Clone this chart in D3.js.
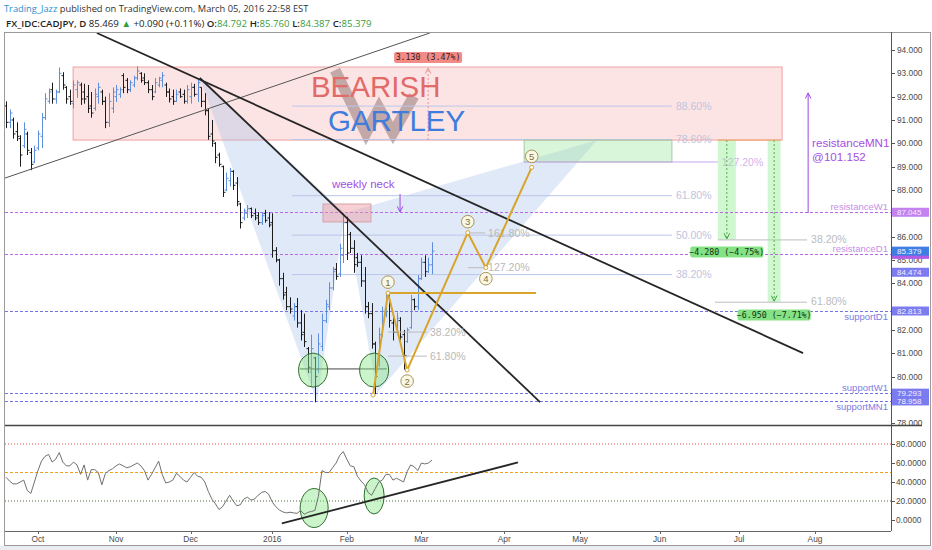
<!DOCTYPE html>
<html><head><meta charset="utf-8">
<script src="https://cdn.jsdelivr.net/npm/d3@7"></script>
<style>
html,body{margin:0;padding:0;background:#fff;overflow:hidden;}
svg{display:block;}
</style></head><body>
<svg id="c" width="932" height="550"></svg>
<script>
// ---------------- DATA ----------------
// daily bars, first bar = 2015-09-18 (index -9), index 0 = 2015-10-01
const firstBarIndex = -9;
const ohlc = [
[91.6,91.8,90.65,90.9],[90.9,91.45,90.65,91.3],[91.0,91.1,90.2,90.4],[90.5,90.9,90.1,90.3],[90.2,90.35,89.0,89.5],
[89.9,90.9,89.8,90.6],[90.4,90.5,89.5,89.7],[89.6,89.8,88.85,89.1],[89.2,89.9,89.15,89.7],
[89.8,90.55,89.7,90.4],[90.3,91.3,89.8,91.1],[91.1,92.15,91.0,91.9],[91.8,92.35,91.7,92.2],[92.3,92.6,91.7,91.9],
[91.9,92.3,91.7,92.2],[92.2,93.25,92.15,93.0],[92.9,93.05,92.3,92.5],[92.4,92.45,91.7,91.9],[92.0,92.3,91.65,91.8],
[91.7,92.7,91.5,92.5],[92.3,92.7,91.95,92.6],[92.5,92.6,91.65,91.9],[92.2,92.55,91.7,91.9],[92.0,92.5,91.3,91.5],
[91.6,92.2,91.1,91.3],[91.5,92.35,91.4,92.1],[92.0,92.6,91.7,92.4],[92.2,92.3,91.65,91.8],[91.8,92.0,90.65,90.9],
[90.9,92.15,90.7,91.8],[91.5,92.4,91.3,92.2],[92.0,92.5,91.77,92.3],[92.1,92.4,91.95,92.3],[92.9,93.0,92.15,92.4],
[92.7,92.8,92.15,92.3],[92.3,92.7,92.2,92.6],[92.5,92.9,92.4,92.8],[92.8,93.3,92.7,93.1],[93.0,93.05,92.6,92.7],
[92.8,93.0,92.5,92.6],[92.6,92.7,92.15,92.3],[92.3,92.5,91.85,92.0],[92.2,92.8,92.15,92.6],[92.5,92.85,92.4,92.8],
[92.7,93.05,92.4,92.9],[92.5,92.6,91.99,92.2],[92.2,92.35,91.75,91.9],[92.0,92.3,91.65,91.8],[91.8,92.3,91.77,92.1],
[92.2,92.35,91.95,92.0],[92.1,92.3,91.7,91.8],[91.8,92.5,91.7,92.3],[92.0,92.6,91.7,92.4],[92.4,92.55,92.0,92.1],
[92.1,92.8,91.77,92.6],[92.4,92.4,91.55,91.8],[91.8,92.15,91.2,91.4],[91.4,91.5,90.15,90.3],[90.4,91.0,89.85,90.1],
[90.0,90.05,89.15,89.4],[89.5,89.6,89.0,89.1],[89.0,89.05,87.7,87.9],[88.0,88.75,87.95,88.5],[88.4,88.95,88.15,88.8],
[88.8,88.85,88.0,88.2],[88.3,88.55,87.3,87.5],[87.4,87.45,86.35,86.6],[86.8,87.2,86.7,87.1],[87.0,87.35,86.8,87.2],
[87.2,87.25,86.8,86.9],[87.0,87.2,86.7,86.8],[86.9,87.05,86.5,86.6],[86.6,87.05,86.5,86.9],[87.0,87.15,86.6,86.7],
[86.8,87.05,86.4,86.5],[86.6,87.0,85.1,85.4],[85.4,85.55,84.9,85.0],[85.0,85.05,83.9,84.2],[84.2,84.45,83.3,83.5],
[83.6,83.85,82.85,83.0],[83.0,83.4,82.7,82.9],[82.6,83.15,82.4,83.0],[83.0,83.37,82.1,82.3],[82.3,82.85,81.55,81.8],
[81.9,82.7,81.27,81.5],[81.2,81.27,80.15,80.4],[80.2,81.8,79.55,81.2],[80.8,80.85,78.9,80.0],[80.3,81.85,80.15,81.4],
[81.3,82.7,81.1,82.4],[82.4,83.3,82.3,83.1],[83.0,84.05,82.85,83.8],[83.8,84.7,83.7,84.5],[84.6,84.87,84.15,84.3],
[84.4,85.7,84.27,85.5],[85.2,87.0,84.87,86.6],[86.6,86.85,85.0,85.3],[86.1,86.2,85.3,85.5],[85.5,85.85,84.45,84.8],
[85.1,85.3,84.7,84.9],[84.9,85.2,83.85,84.1],[84.1,84.7,82.7,83.0],[83.0,83.2,82.5,82.7],[82.7,83.15,81.2,81.4],
[81.4,81.5,79.25,80.0],[80.5,82.1,80.4,81.8],[81.8,83.0,81.7,82.8],[82.7,83.6,82.55,83.4],[83.4,83.6,82.1,82.4],
[82.3,82.7,81.55,81.9],[81.9,82.75,81.85,82.5],[82.4,82.55,81.55,81.7],[81.8,82.0,80.3,80.9],[81.5,82.1,81.45,82.0],
[82.1,83.5,82.05,83.3],[83.3,83.35,82.85,83.0],[83.0,84.35,82.85,84.2],[84.2,85.1,84.15,84.9],[84.9,85.2,84.27,84.5],
[84.5,85.1,84.45,84.79],[84.792,85.76,84.387,85.379]
];
const rsi = [45,41,38,38,40,42,31,28,40,
52,62,67,69,61,64,71,61,57,57,
61,58,48,58,42,53,53,50,37,49,
52,54,57,59,57,55,56,58,60,57,
52,42,48,55,62,48,39,40,42,49,
46,42,40,45,50,46,45,40,30,22,
17,11,14,20,26,20,15,16,22,24,
21,22,26,29,30,27,19,14,10.5,8.5,
7.5,8.2,7.5,7,10,6,8,9,10,25,
52,50,50,55,60,68,72,64,57,56,
46,41,37,29,26,33,40,42,48,48,
42,44,42,40,51,58,56,52,60,59,
60,63];

const priceTicks = d3.range(78, 95, 1);
const rsiTicks = [0, 20, 40, 60, 80];
const monthLabels = ["Oct","Nov","Dec","2016","Feb","Mar","Apr","May","Jun","Jul","Aug"];
const monthStarts = ["2015-10-01","2015-11-02","2015-12-01","2016-01-01","2016-02-01","2016-03-01","2016-04-01","2016-05-02","2016-06-01","2016-07-01","2016-08-01"];

// levels
const levelNames = ["resistanceW1","resistanceD1","supportD1","supportW1","supportMN1"];
const levelValues = [87.045, 85.24, 82.813, 79.293, 78.958];
const levelAbove = [true, true, false, true, false];
const axisBoxValues = [87.045, 85.24, 85.379, 84.474, 82.813, 79.293, 78.958];
const axisBoxKinds  = ["res","resHidden","last","sup","sup","sup","sup"];

// fib retracement (XA) : [low, high] and levels
const fibRange = [78.9, 93.23];
const fibLevels = [0.382, 0.5, 0.618, 0.786, 0.886];
const fibSpan = [71.6, 177.4];

// PRZ zone
const przSpan = [9.9, 207.9];
const przPrices = [90.14, 93.27];
const przMeasureIndex = 109.9;

// harmonic X A B C D
const xabcd = [[45.6,92.8],[78.6,78.91],[86.5,87.01],[95.5,79.3],[156.7,90.14]];

// trend lines
const thickLines = [[[16.6,94.73],[213.7,81.01]], [[45.6,92.8],[140.9,78.91]]];
const thinLine = [[-9.3,88.51],[110.4,94.73]];
const neckLine = [[73.8,80.33],[98.3,80.33]];
const priceCircles = [[77.5,80.28],[94.7,80.28]];

// wave count
const wavePts = [[94.4,79.21],[98.6,83.58],[104.0,80.28],[120.9,86.17],[125.9,84.67],[138.6,88.97]];
const waveNames = ["1","2","3","4","5"];
const waveBaseEnd = 139.8;
const waveRetr = [0.382, 0.618];
const waveRetrSpan = [98.6, 109.6];
const waveExt = [["161.80%",86.16],["127.20%",84.67]];
const waveExtSpan = [120.9, 125.7];

// target zone
const targetSpan = [136.5, 177.4];
const targetPrices = [89.2, 90.14];
const targetLineEnd = 190.1;

// measurement tools
const measureBase = 90.14;
const measureTargets = [85.86, 83.19];
const measureSpans = [[190.1,195.1],[203.9,207.5]];
const measureLabelPrice = [85.34, 82.64];
const measureFibNames = ["38.20%","61.80%"];
const measureFibSpan = [[190.1,214.8],[189.3,214.8]];

// annotations
const gartleyIcon = [[83.7,93.14],[92.4,90.44],[96.1,91.51],[100.0,90.44],[105.9,92.03]];
const neckText = [82.8, 88.09];
const neckArrow = [102.0, 87.83, 87.06];
const neckBox = [[80.3,87.40],[93.8,86.63]];
const mnArrow = [215.1, 87.01, 92.16];
const mnText = [216.2, 89.84, 89.24];

// RSI annotations
const rsiTrend = [[68.7,-3.6],[134.8,60.6]];
const rsiCircles = [[77.8,12.6],[94.7,25.3]];

// ---------------- SCALES ----------------
const svg = d3.select("#c");
const L = 5, R = 891, mainTop = 32, mainBot = 425, rsiTop = 427, rsiBot = 531;
const x = d3.scaleLinear().domain([-9, 111, 217]).range([6, 432, 815]);
const y = d3.scaleLinear().domain([78, 94]).range([423.3, 50]);
const yr = d3.scaleLinear().domain([0, 80]).range([520, 444]);
const FONT = "'Liberation Sans', Arial, sans-serif";
const MONO = "'DejaVu Sans Mono', 'Liberation Mono', monospace";

function tradingIndex(ds) {
  const s = new Date(Date.UTC(2015, 9, 1));
  const d = new Date(ds + "T00:00:00Z");
  return d3.utcDay.range(s, d).filter(t => t.getUTCDay() % 6 !== 0).length;
}

svg.append("rect").attr("width", 932).attr("height", 550).attr("fill", "#fff");
svg.append("rect").attr("x", 0).attr("y", 546).attr("width", 932).attr("height", 4).attr("fill", "#e9edf1");

const defs = svg.append("defs");
defs.append("clipPath").attr("id", "cm").append("rect").attr("x", L).attr("y", mainTop).attr("width", R - L).attr("height", mainBot - mainTop);
defs.append("clipPath").attr("id", "cr").append("rect").attr("x", L).attr("y", rsiTop).attr("width", R - L).attr("height", rsiBot - rsiTop);
function arrowMarker(id, color) {
  defs.append("marker").attr("id", id).attr("viewBox", "0 0 10 10").attr("refX", 9).attr("refY", 5)
    .attr("markerWidth", 7).attr("markerHeight", 7).attr("orient", "auto-start-reverse")
    .append("path").attr("d", "M1,1 L9,5 L1,9").attr("fill", "none").attr("stroke", color).attr("stroke-width", 1.4);
}
arrowMarker("arP", "#9b47e0");
arrowMarker("arG", "#3aa03a");
arrowMarker("arR", "#e59090");

const main = svg.append("g").attr("clip-path", "url(#cm)");
const line = d3.line().x(d => x(d[0])).y(d => y(d[1]));

// PRZ zone
main.append("rect").attr("x", x(przSpan[0])).attr("y", y(przPrices[1]))
  .attr("width", x(przSpan[1]) - x(przSpan[0])).attr("height", y(przPrices[0]) - y(przPrices[1]))
  .attr("fill", "rgba(250,170,170,0.32)").attr("stroke", "#f0a2a2").attr("stroke-width", 1);

// harmonic triangles
const tri1 = [xabcd[0], xabcd[1], xabcd[2]];
const tri2 = [xabcd[2], xabcd[3], xabcd[4]];
[tri1, tri2].forEach(t => main.append("path").attr("d", line(t) + "Z").attr("fill", "rgba(160,188,232,0.33)").attr("stroke", "none"));

// gartley icon
main.append("path").attr("d", line(gartleyIcon)).attr("fill", "none").attr("stroke", "rgba(125,95,95,0.45)")
  .attr("stroke-width", 11).attr("stroke-linejoin", "miter");

// fib lines
fibLevels.forEach(l => {
  const p = fibRange[0] + l * (fibRange[1] - fibRange[0]);
  main.append("line").attr("x1", x(fibSpan[0])).attr("x2", x(fibSpan[1])).attr("y1", y(p)).attr("y2", y(p))
    .attr("stroke", "#b9c6ec").attr("stroke-width", 1);
  main.append("text").attr("x", x(fibSpan[1]) + 4).attr("y", y(p)).attr("dy", "0.35em")
    .attr("font-family", FONT).attr("font-size", 10.5).attr("fill", "#bcc4de").text(d3.format(".2f")(l * 100) + "%");
});

// target zone
main.append("rect").attr("x", x(targetSpan[0])).attr("y", y(targetPrices[1]))
  .attr("width", x(targetSpan[1]) - x(targetSpan[0])).attr("height", y(targetPrices[0]) - y(targetPrices[1]))
  .attr("fill", "rgba(150,228,150,0.35)").attr("stroke", "#a8c8a8").attr("stroke-width", 1);
main.append("line").attr("x1", x(targetSpan[0])).attr("x2", x(targetLineEnd)).attr("y1", y(targetPrices[0])).attr("y2", y(targetPrices[0]))
  .attr("stroke", "#c9a6ee").attr("stroke-width", 1);
main.append("text").attr("x", x(targetLineEnd) + 4).attr("y", y(targetPrices[0])).attr("dy", "0.35em")
  .attr("font-family", FONT).attr("font-size", 10.5).attr("fill", "#d3b3ec").text("127.20%");

// measurement bars
measureTargets.forEach((t, k) => {
  const s = measureSpans[k];
  main.append("rect").attr("x", x(s[0])).attr("y", y(measureBase)).attr("width", x(s[1]) - x(s[0]))
    .attr("height", y(t) - y(measureBase)).attr("fill", "rgba(140,235,140,0.4)");
  const cx = (x(s[0]) + x(s[1])) / 2;
  main.append("line").attr("x1", cx).attr("x2", cx).attr("y1", y(measureBase)).attr("y2", y(t) - 1)
    .attr("stroke", "#4cae4c").attr("stroke-width", 1).attr("stroke-dasharray", "2,2").attr("marker-end", "url(#arG)");
  main.append("line").attr("x1", x(measureFibSpan[k][0])).attr("x2", x(measureFibSpan[k][1])).attr("y1", y(t)).attr("y2", y(t))
    .attr("stroke", "#bdbdbd").attr("stroke-width", 1);
  main.append("text").attr("x", x(measureFibSpan[k][1]) + 4).attr("y", y(t) - 1).attr("dy", "0.35em")
    .attr("font-family", FONT).attr("font-size", 10.5).attr("fill", "#bbbbbb").text(measureFibNames[k]);
});
main.append("line").attr("x1", x(measureSpans[0][0])).attr("x2", x(measureSpans[1][1])).attr("y1", y(measureBase)).attr("y2", y(measureBase))
  .attr("stroke", "#f0a060").attr("stroke-width", 1);

// level lines
levelValues.forEach((v, k) => {
  const res = levelNames[k].startsWith("res");
  main.append("line").attr("x1", L).attr("x2", R).attr("y1", Math.round(y(v)) + 0.5).attr("y2", Math.round(y(v)) + 0.5)
    .attr("stroke", res ? "#b76ae8" : "#7474e6").attr("stroke-width", 1).attr("stroke-dasharray", "3,2");
  main.append("text").attr("x", R - 3).attr("y", y(v) + (levelAbove[k] ? -2 : 9)).attr("text-anchor", "end")
    .attr("font-family", FONT).attr("font-size", 9.5).attr("fill", res ? "#c590e6" : "#7c7ce4").text(levelNames[k]);
});

// neck box
main.append("rect").attr("x", x(neckBox[0][0])).attr("y", y(neckBox[0][1])).attr("width", x(neckBox[1][0]) - x(neckBox[0][0]))
  .attr("height", y(neckBox[1][1]) - y(neckBox[0][1])).attr("fill", "rgba(238,150,160,0.45)").attr("stroke", "#d9a0a8");

// bars
const bars = ohlc.map((b, k) => ({ i: firstBarIndex + k, o: b[0], h: b[1], l: b[2], c: b[3] }));
main.append("g").selectAll("path").data(bars).join("path")
  .attr("d", d => {
    const cx = Math.round(x(d.i)) + 0.5;
    return `M${cx},${y(d.h)}V${y(d.l)}M${cx - 2},${y(d.o)}H${cx}M${cx},${y(d.c)}H${cx + 2}`;
  })
  .attr("fill", "none").attr("stroke", d => d.c >= d.o ? "#5d8fdc" : "#1b1b1b").attr("stroke-width", 1);

// trend lines
main.append("path").attr("d", line(thinLine)).attr("stroke", "#555").attr("stroke-width", 1).attr("fill", "none");
thickLines.forEach(t => main.append("path").attr("d", line(t)).attr("stroke", "#262626").attr("stroke-width", 1.8).attr("fill", "none"));

// neck line + circles
main.append("path").attr("d", line(neckLine)).attr("stroke", "#444").attr("stroke-width", 1).attr("fill", "none");
priceCircles.forEach(c => main.append("ellipse").attr("cx", x(c[0])).attr("cy", y(c[1])).attr("rx", 14.5).attr("ry", 17)
  .attr("fill", "rgba(140,230,140,0.45)").attr("stroke", "#2f6f2f").attr("stroke-width", 1));

// wave lines
const gold = "#d8a42a";
main.append("line").attr("x1", x(wavePts[1][0])).attr("x2", x(waveBaseEnd)).attr("y1", y(wavePts[1][1])).attr("y2", y(wavePts[1][1]))
  .attr("stroke", gold).attr("stroke-width", 2);
waveRetr.forEach(r => {
  const p = wavePts[1][1] - r * (wavePts[1][1] - wavePts[0][1]);
  main.append("line").attr("x1", x(waveRetrSpan[0])).attr("x2", x(waveRetrSpan[1])).attr("y1", y(p)).attr("y2", y(p)).attr("stroke", "#bdbdbd");
  main.append("text").attr("x", x(waveRetrSpan[1]) + 3).attr("y", y(p)).attr("dy", "0.35em").attr("font-family", FONT)
    .attr("font-size", 10.5).attr("fill", "#b9b9b9").text(d3.format(".2f")(r * 100) + "%");
});
waveExt.forEach(e => {
  main.append("line").attr("x1", x(waveExtSpan[0])).attr("x2", x(waveExtSpan[1])).attr("y1", y(e[1])).attr("y2", y(e[1])).attr("stroke", "#bdbdbd");
  main.append("text").attr("x", x(waveExtSpan[1]) + 3).attr("y", y(e[1])).attr("dy", "0.35em").attr("font-family", FONT)
    .attr("font-size", 10.5).attr("fill", "#b9b9b9").text(e[0]);
});
main.append("path").attr("d", line(wavePts)).attr("fill", "none").attr("stroke", gold).attr("stroke-width", 2).attr("stroke-linejoin", "round");
main.selectAll(".wp").data(wavePts).join("circle").attr("cx", d => x(d[0])).attr("cy", d => y(d[1])).attr("r", 2)
  .attr("fill", "#fff").attr("stroke", gold).attr("stroke-width", 1);
waveNames.forEach((n, k) => {
  const p = wavePts[k + 1];
  const up = k % 2 === 0;
  const cx = x(p[0]), cy = y(p[1]) + (up ? -11 : 11);
  main.append("circle").attr("cx", cx).attr("cy", cy).attr("r", 6.3).attr("fill", "#fbf8e6").attr("stroke", "#a2955a").attr("stroke-width", 1);
  main.append("text").attr("x", cx).attr("y", cy).attr("dy", "0.36em").attr("text-anchor", "middle").attr("font-family", FONT)
    .attr("font-size", 9.5).attr("fill", "#7d6f35").text(n);
});

// PRZ measure
main.append("line").attr("x1", x(przMeasureIndex)).attr("x2", x(przMeasureIndex)).attr("y1", y(przPrices[0])).attr("y2", y(przPrices[1]) + 1)
  .attr("stroke", "#e59090").attr("stroke-dasharray", "2,2").attr("marker-end", "url(#arR)");
{
  const d = przPrices[1] - przPrices[0];
  const txt = d3.format(".3f")(d) + " (" + d3.format(".2f")(d / przPrices[0] * 100) + "%)";
  const cx = x(przMeasureIndex), cy = y(przPrices[1]) - 9.5;
  main.append("rect").attr("x", cx - 34).attr("y", cy - 5.5).attr("width", 68).attr("height", 11).attr("rx", 2).attr("fill", "#f28a86");
  main.append("text").attr("x", cx).attr("y", cy).attr("dy", "0.35em").attr("text-anchor", "middle").attr("font-family", MONO)
    .attr("font-size", 8.3).attr("fill", "#3a1a1a").text(txt);
}

// measurement labels
measureTargets.forEach((t, k) => {
  const s = measureSpans[k];
  const d = t - measureBase;
  const txt = d3.format(".3f")(d) + " (" + d3.format(".2f")(d / measureBase * 100) + "%)";
  const cx = (x(s[0]) + x(s[1])) / 2, cy = y(measureLabelPrice[k]);
  main.append("rect").attr("x", cx - 36.5).attr("y", cy - 5.5).attr("width", 73).attr("height", 11).attr("rx", 2).attr("fill", "#84e184");
  main.append("text").attr("x", cx).attr("y", cy).attr("dy", "0.35em").attr("text-anchor", "middle").attr("font-family", MONO)
    .attr("font-size", 8.3).attr("fill", "#123312").text(txt);
});

// big texts
main.append("text").attr("x", x(76.9)).attr("y", y(91.99)).attr("font-family", FONT).attr("font-size", 29.5)
  .attr("fill", "#e16a6a").text("BEARISH");
main.append("text").attr("x", x(81.7)).attr("y", y(90.53)).attr("font-family", FONT).attr("font-size", 29.5)
  .attr("fill", "#3f7ddd").text("GARTLEY");

// weekly neck
main.append("text").attr("x", x(neckText[0])).attr("y", y(neckText[1])).attr("font-family", FONT).attr("font-size", 11.5)
  .attr("fill", "#a34fe3").text("weekly neck");
main.append("line").attr("x1", x(neckArrow[0])).attr("x2", x(neckArrow[0])).attr("y1", y(neckArrow[1])).attr("y2", y(neckArrow[2]))
  .attr("stroke", "#9b47e0").attr("stroke-width", 1).attr("marker-end", "url(#arP)");

// MN1 arrow + text
main.append("line").attr("x1", x(mnArrow[0])).attr("x2", x(mnArrow[0])).attr("y1", y(mnArrow[1])).attr("y2", y(mnArrow[2]))
  .attr("stroke", "#9b47e0").attr("stroke-width", 1).attr("marker-end", "url(#arP)");
svg.append("text").attr("x", x(mnText[0])).attr("y", y(mnText[1])).attr("font-family", FONT).attr("font-size", 11.6)
  .attr("fill", "#a54ee4").text("resistanceMN1");
svg.append("text").attr("x", x(mnText[0])).attr("y", y(mnText[2])).attr("font-family", FONT).attr("font-size", 11.6)
  .attr("fill", "#a54ee4").text("@101.152");

// ---------------- RSI PANE ----------------
const rp = svg.append("g").attr("clip-path", "url(#cr)");
[[80, "#e04848", "1,2"], [50, "#f0a020", "3,2"], [20, "#4d6b3a", "1,2"]].forEach(l =>
  rp.append("line").attr("x1", L).attr("x2", R).attr("y1", yr(l[0])).attr("y2", yr(l[0]))
    .attr("stroke", l[1]).attr("stroke-width", 1).attr("stroke-dasharray", l[2]));
rsiCircles.forEach((c, k) => rp.append("ellipse").attr("cx", x(c[0])).attr("cy", yr(c[1])).attr("rx", k ? 10 : 14).attr("ry", k ? 18 : 19.5)
  .attr("fill", "rgba(140,230,140,0.45)").attr("stroke", "#2f6f2f").attr("stroke-width", 1));
rp.append("path").datum(rsi).attr("d", d3.line().x((d, k) => x(firstBarIndex + k)).y(d => yr(d)))
  .attr("fill", "none").attr("stroke", "#707070").attr("stroke-width", 1);
rp.append("path").attr("d", d3.line().x(d => x(d[0])).y(d => yr(d[1]))(rsiTrend)).attr("stroke", "#262626").attr("stroke-width", 1.8).attr("fill", "none");

// ---------------- FRAME & AXES ----------------
svg.append("rect").attr("x", 4.5).attr("y", 32.5).attr("width", 926).attr("height", 513).attr("fill", "none").attr("stroke", "#9a9a9a");
svg.append("line").attr("x1", R + 0.5).attr("x2", R + 0.5).attr("y1", mainTop).attr("y2", rsiBot).attr("stroke", "#555");
svg.append("line").attr("x1", L).attr("x2", 922).attr("y1", 425.5).attr("y2", 425.5).attr("stroke", "#444").attr("stroke-width", 1.6);
svg.append("line").attr("x1", L).attr("x2", R).attr("y1", rsiBot + 0.5).attr("y2", rsiBot + 0.5).attr("stroke", "#666");

// price axis
const pa = svg.append("g");
const textBoxYs = axisBoxValues.filter((v, k) => axisBoxKinds[k] !== "resHidden").map(v => y(v));
priceTicks.forEach(v => {
  pa.append("line").attr("x1", R).attr("x2", R + 4).attr("y1", Math.round(y(v)) + 0.5).attr("y2", Math.round(y(v)) + 0.5).attr("stroke", "#555");
  if (textBoxYs.some(by => Math.abs(by - y(v)) < 8)) return;
  pa.append("text").attr("x", R + 6).attr("y", y(v)).attr("dy", "0.35em").attr("font-family", FONT).attr("font-size", 8.3)
    .attr("fill", "#4a4a4a").text(d3.format(".3f")(v));
});
axisBoxValues.forEach((v, k) => {
  const kind = axisBoxKinds[k];
  const fill = kind === "res" ? "#c482f0" : kind === "resHidden" ? "#b45be6" : kind === "last" ? "#3f7fe3" : "#7c7cf0";
  const h = 9;
  pa.append("rect").attr("x", R + 1).attr("y", y(v) - h / 2).attr("width", 37).attr("height", h).attr("fill", fill);
  if (kind === "resHidden") return;
  pa.append("text").attr("x", R + 6).attr("y", y(v)).attr("dy", "0.35em").attr("font-family", FONT).attr("font-size", 8)
    .attr("fill", "#f4f0ff").text(d3.format(".3f")(v));
});
// rsi axis
rsiTicks.forEach(v => {
  pa.append("line").attr("x1", R).attr("x2", R + 4).attr("y1", Math.round(yr(v)) + 0.5).attr("y2", Math.round(yr(v)) + 0.5).attr("stroke", "#555");
  pa.append("text").attr("x", R + 5).attr("y", yr(v)).attr("dy", "0.35em").attr("font-family", FONT).attr("font-size", 8.3)
    .attr("fill", "#4a4a4a").text(d3.format(".4f")(v));
});
// time axis
monthStarts.forEach((m, k) => {
  const xi = x(tradingIndex(m));
  pa.append("line").attr("x1", Math.round(xi) + 0.5).attr("x2", Math.round(xi) + 0.5).attr("y1", rsiBot).attr("y2", rsiBot + 3).attr("stroke", "#666");
  pa.append("text").attr("x", xi).attr("y", 542).attr("text-anchor", "middle").attr("font-family", FONT).attr("font-size", 8.3)
    .attr("fill", "#4a4a4a").text(monthLabels[k]);
});

// ---------------- HEADER ----------------
const HF = "'Open Sans', 'Noto Sans', sans-serif";
function fit(t, target) {
  const w = t.node().getComputedTextLength();
  t.attr("font-size", parseFloat(t.attr("font-size")) * target / w);
}
const h1parts = [["Trading_Jazz", "#2a8fd0", 400], [" published on TradingView.com, March 05, 2016 22:58 EST", "#333", 400]];
const h1 = svg.append("text").attr("x", 4).attr("y", 12).attr("font-family", HF).attr("font-size", 10);
h1parts.forEach(p => h1.append("tspan").attr("fill", p[1]).attr("font-weight", p[2]).text(p[0]));
fit(h1, 305);
const h2parts = [["FX_IDC:CADJPY, D", "#1e1e1e", 600], [" 85.469 ", "#222", 400], ["▲", "#2fa040", 400], [" +0.090 (+0.11%) ", "#222", 400],
  ["O:", "#1e1e1e", 600], ["84.792", "#3d9c3d", 400], [" H:", "#1e1e1e", 600], ["85.760", "#3d9c3d", 400],
  [" L:", "#1e1e1e", 600], ["84.387", "#3d9c3d", 400], [" C:", "#1e1e1e", 600], ["85.379", "#3d9c3d", 400]];
const h2 = svg.append("text").attr("x", 6).attr("y", 26.5).attr("font-family", HF).attr("font-size", 10.5);
h2parts.forEach(p => h2.append("tspan").attr("fill", p[1]).attr("font-weight", p[2]).text(p[0]));
fit(h2, 366);
</script>
</body></html>
